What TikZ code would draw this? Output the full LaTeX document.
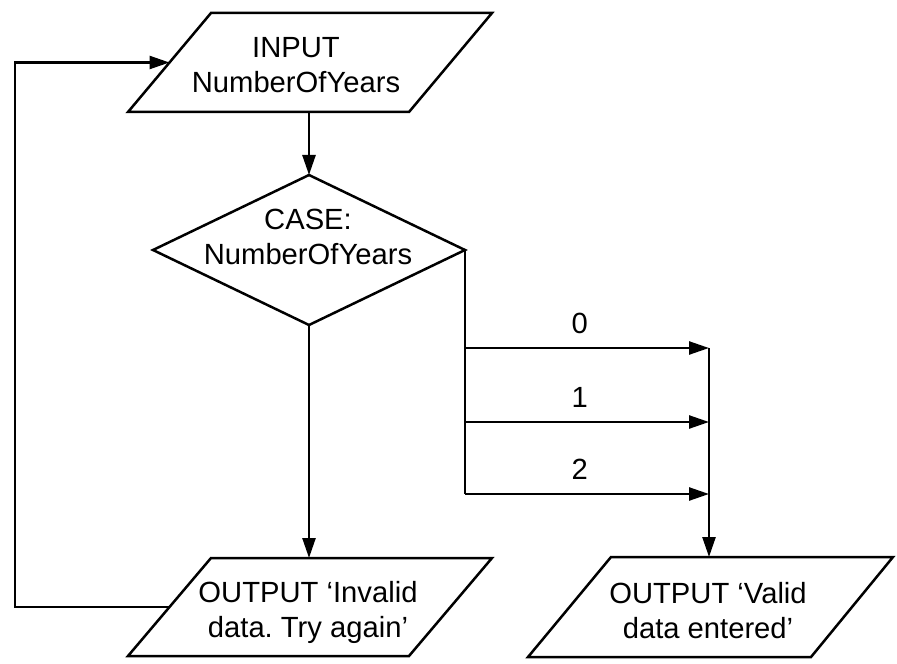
\documentclass[tikz,border=0pt]{standalone}
\usepackage{fontspec}
\setmainfont{Liberation Sans}
\usetikzlibrary{arrows.meta}
\frenchspacing
\begin{document}
\begin{tikzpicture}[x=0.5pt,y=-0.5pt,
  shapeline/.style={line width=1.25pt, line join=miter},
  conn/.style={line width=1.25pt},
  arr/.style={conn, -{Triangle[length=10pt,width=6.5pt]}},
  txt/.style={align=center, font=\fontsize{14.6pt}{17.5pt}\selectfont, inner sep=0pt},
  lbl/.style={font=\fontsize{14.6pt}{17.5pt}\selectfont, inner sep=0pt, anchor=south, yshift=6.5pt}]
\useasboundingbox (0,0) rectangle (897,663);

% ---- INPUT parallelogram
\coordinate (tpA) at (211,13);
\coordinate (tpB) at (492,13);
\coordinate (tpC) at (409,112);
\coordinate (tpD) at (128,112);
\coordinate (tpW) at (169.5,62.5);
\coordinate (tpS) at (309,112);
\draw[shapeline] (tpA) -- (tpB) -- (tpC) -- (tpD) -- cycle;
\node[txt] (tptext) at (296,65) {INPUT\\NumberOfYears};

% ---- CASE diamond
\coordinate (dN) at (309,175);
\coordinate (dE) at (465,250);
\coordinate (dS) at (309,325);
\coordinate (dW) at (153,250);
\draw[shapeline] (dN) -- (dE) -- (dS) -- (dW) -- cycle;
\node[txt] (dtext) at (308,237) {CASE:\\NumberOfYears};

% ---- OUTPUT invalid parallelogram
\coordinate (blA) at (211,558);
\coordinate (blB) at (492,558);
\coordinate (blC) at (409,656);
\coordinate (blD) at (128,656);
\coordinate (blW) at (169.5,607);
\coordinate (blN) at (309,558);
\draw[shapeline] (blA) -- (blB) -- (blC) -- (blD) -- cycle;
\node[txt] (bltext) at (308,612) {OUTPUT ‘Invalid\\data. Try again’};

% ---- OUTPUT valid parallelogram
\coordinate (brA) at (611,557);
\coordinate (brB) at (893,557);
\coordinate (brC) at (811,657);
\coordinate (brD) at (528,657);
\coordinate (brN) at (709,557);
\draw[shapeline] (brA) -- (brB) -- (brC) -- (brD) -- cycle;
\node[txt] (brtext) at (708,610.5) {OUTPUT ‘Valid\\data entered’};

% ---- helper coordinates
\coordinate (loopx) at (15,0);
\coordinate (b0) at (0,348);
\coordinate (b1) at (0,422);
\coordinate (b2) at (0,494);
\coordinate (vx) at (709,0);

% ---- connectors
\draw[arr] (tpS) -- (dN);
\draw[arr] (dS) -- (blN);
\draw[arr] (blW) -- (blW -| loopx) |- (tpW);
\draw[conn] (dE) -- (dE |- b2);
\draw[arr] (dE |- b0) -- node[lbl, pos=0.47] {0} (vx |- b0);
\draw[arr] (dE |- b1) -- node[lbl, pos=0.47] {1} (vx |- b1);
\draw[arr] (dE |- b2) -- node[lbl, pos=0.47] {2} (vx |- b2);
\draw[arr] (vx |- b0) -- (brN);
\end{tikzpicture}
\end{document}
